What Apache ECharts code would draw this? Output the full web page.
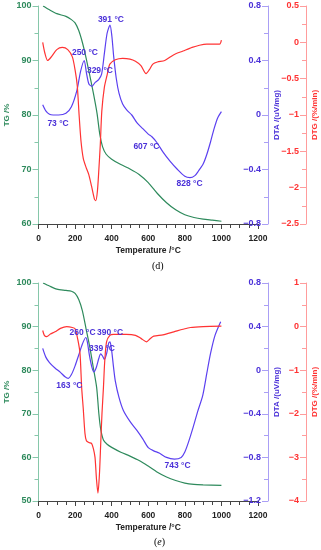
<!DOCTYPE html>
<html><head><meta charset="utf-8">
<script src="https://cdn.jsdelivr.net/npm/echarts@6/dist/echarts.min.js"></script>
<style>html,body{margin:0;padding:0;background:#fff}#c{width:321px;height:550px}</style>
</head><body><div id="c"></div>
<script>
// ---------- DATA (d) ----------
const tgD = [[25,100],[60,99.3],[100,98.6],[150,98.1],[180,97.5],[200,96.9],[220,95.5],[240,93.3],[260,90.5],[280,87.3],[300,84],[320,80.3],[335,76.5],[350,74.2],[370,72.8],[400,71.9],[450,70.9],[500,70.1],[550,69.1],[600,67.6],[650,65.6],[700,63.9],[750,62.6],[800,61.7],[850,61.2],[900,60.9],[950,60.7],[1000,60.5]];
const dtaD = [[23,0.075],[40,0.03],[60,0.005],[80,0.0],[110,0.0],[150,0.012],[180,0.06],[210,0.18],[230,0.32],[250,0.40],[262,0.31],[275,0.23],[292,0.21],[310,0.24],[329,0.26],[345,0.30],[360,0.45],[375,0.6],[391,0.66],[401,0.58],[411,0.43],[425,0.27],[440,0.16],[460,0.08],[482,0.037],[510,0.0],[540,-0.06],[570,-0.1],[600,-0.14],[620,-0.16],[646,-0.2],[680,-0.27],[720,-0.34],[760,-0.40],[800,-0.45],[828,-0.46],[855,-0.445],[875,-0.41],[900,-0.36],[920,-0.29],[940,-0.2],[960,-0.1],[980,-0.02],[1000,0.025]];
const dtgD = [[23,0.0],[35,-0.15],[50,-0.25],[70,-0.2],[100,-0.1],[130,-0.07],[160,-0.1],[185,-0.2],[200,-0.38],[212,-0.6],[222,-1.0],[232,-1.35],[245,-1.6],[260,-1.72],[275,-1.82],[290,-1.98],[305,-2.15],[313,-2.18],[322,-2.05],[330,-1.75],[338,-1.4],[346,-0.95],[360,-0.62],[375,-0.45],[390,-0.3],[420,-0.24],[460,-0.22],[500,-0.23],[530,-0.26],[560,-0.32],[588,-0.43],[605,-0.38],[625,-0.3],[650,-0.27],[690,-0.25],[740,-0.17],[790,-0.12],[840,-0.07],[880,-0.04],[920,-0.025],[990,-0.025],[1000,0.03]];
const annD = [[396,0.697,'391 °C'],[254,0.455,'250 °C'],[336,0.323,'329 °C'],[107,-0.066,'73 °C'],[590,-0.235,'607 °C'],[826,-0.506,'828 °C']];
// ---------- DATA (e) ----------
const tgE = [[25,100],[60,99.3],[100,98.6],[150,98.3],[180,98.1],[200,97.6],[220,96.2],[240,93.6],[260,89.5],[280,85.4],[300,80.5],[318,76],[330,70],[340,66.5],[355,64],[375,63],[400,62.3],[450,61.2],[500,60.3],[550,59.3],[600,58],[650,56.6],[700,55.5],[750,54.7],[800,54.1],[850,53.8],[900,53.7],[1000,53.6]];
const dtaE = [[23,0.2],[40,0.12],[60,0.07],[90,0.02],[120,-0.02],[145,-0.06],[163,-0.075],[180,-0.04],[200,0.04],[220,0.14],[240,0.24],[258,0.3],[267,0.26],[278,0.14],[290,0.04],[302,-0.015],[315,0.02],[330,0.11],[340,0.15],[350,0.13],[360,0.1],[372,0.15],[384,0.25],[391,0.26],[400,0.18],[410,0.03],[420,-0.1],[440,-0.25],[464,-0.37],[500,-0.47],[537,-0.55],[570,-0.63],[600,-0.71],[630,-0.74],[660,-0.76],[700,-0.80],[743,-0.815],[780,-0.80],[800,-0.75],[820,-0.66],[846,-0.52],[870,-0.38],[898,-0.23],[920,-0.03],[940,0.15],[965,0.32],[996,0.445]];
const dtgE = [[23,-0.09],[32,-0.2],[45,-0.23],[65,-0.17],[90,-0.12],[120,-0.04],[154,0.0],[185,-0.02],[200,-0.05],[215,-0.3],[227,-0.62],[236,-1.4],[245,-1.9],[254,-2.45],[262,-2.62],[275,-2.66],[290,-2.68],[300,-2.8],[309,-3.0],[317,-3.5],[325,-3.82],[333,-3.4],[340,-2.7],[347,-2.0],[355,-1.4],[362,-0.8],[372,-0.35],[390,-0.2],[410,-0.18],[480,-0.18],[530,-0.2],[560,-0.27],[591,-0.35],[610,-0.28],[630,-0.22],[680,-0.19],[740,-0.12],[790,-0.06],[830,-0.02],[900,0.0],[1000,0.01]];
const annE = [[241,0.341,'260 °C'],[391,0.341,'390 °C'],[347,0.194,'339 °C'],[169,-0.145,'163 °C'],[760,-0.879,'743 °C']];
// ---------- STYLE ----------
const FF = 'Liberation Sans, Arial, sans-serif';
const GREEN='#2e8a5c', GREEN_AX='#86c7aa', BLUE='#5b40f0', BLUE_TXT='#4a30d8', BLUE_AX='#aa9ff5', RED='#ff3333', RED_AX='#ff9c9c';
const fmt = v => String(+v.toFixed(2)).replace('-', '\u2212');

function yAx(grid, pos, offset, min, max, interval, color, axColor, name, nameGap, inside){
  return {type:'value', gridIndex:grid, position:pos, offset, min, max, interval,
    name, nameLocation:'middle', nameGap, nameRotate:90, nameMoveOverlap:false,
    nameTextStyle:{color, fontWeight:'bold', fontSize:8, fontFamily:FF},
    axisLine:{show:true, onZero:false, lineStyle:{color:axColor, width:1}},
    axisTick:{show:true, inside, length:6, lineStyle:{color:axColor}},
    minorTick:{show:true, splitNumber:2, length:4, lineStyle:{color:axColor}},
    axisLabel:{inside, margin:7, color, fontWeight:'bold', fontSize:9, fontFamily:FF, formatter:fmt},
    splitLine:{show:false}, minorSplitLine:{show:false}};
}
function xAx(grid){
  return {type:'value', gridIndex:grid, min:0, max:1200, interval:200,
    name:'Temperature /°C', nameLocation:'middle', nameGap:22, nameMoveOverlap:false,
    nameTextStyle:{color:'#222', fontWeight:'bold', fontSize:8.5, fontFamily:FF},
    axisLine:{onZero:false, lineStyle:{color:'#444'}},
    axisTick:{length:5, lineStyle:{color:'#444'}},
    minorTick:{show:true, splitNumber:4, length:4, lineStyle:{color:'#444'}},
    axisLabel:{margin:10, color:'#222', fontWeight:'bold', fontSize:8.5, fontFamily:FF, formatter: v => String(v)},
    splitLine:{show:false}};
}
function line(data, xi, yi, color){
  return {type:'line', data, xAxisIndex:xi, yAxisIndex:yi, smooth:0.25, symbol:'none',
    lineStyle:{color, width:1.2}, itemStyle:{color}, silent:true};
}
function ann(list){
  return {symbol:'circle', symbolSize:1, itemStyle:{color:'rgba(0,0,0,0)'}, silent:true,
    label:{show:true, position:'inside', formatter:'{b}', color:BLUE_TXT, fontWeight:'bold', fontSize:8.5, fontFamily:FF},
    data: list.map(a => ({name:a[2], coord:[a[0], a[1]]}))};
}
const chart = echarts.init(document.getElementById('c'), null, {renderer:'canvas'});
const dtaDs = line(dtaD,0,1,BLUE); dtaDs.markPoint = ann(annD);
const dtaEs = line(dtaE,1,4,BLUE); dtaEs.markPoint = ann(annE);
chart.setOption({
  animation:false,
  backgroundColor:'#fff',
  title:[
    {text:'(d)', left:152, top:261, padding:0, textStyle:{fontFamily:'Liberation Serif, serif', fontSize:10, fontWeight:'normal', color:'#000'}},
    {text:'({i|e})', left:154, top:537, padding:0, textStyle:{fontFamily:'Liberation Serif, serif', fontSize:10, fontWeight:'normal', color:'#000', rich:{i:{fontStyle:'italic', fontFamily:'Liberation Serif, serif', fontSize:10}}}}
  ],
  grid:[
    {left:38.5, top:6, width:219.5, height:218, containLabel:false, outerBoundsMode:'none'},
    {left:38.5, top:283, width:219.5, height:218, containLabel:false, outerBoundsMode:'none'}
  ],
  xAxis:[xAx(0), xAx(1)],
  yAxis:[
    yAx(0,'left',0,60,100,10,GREEN,GREEN_AX,'TG /%',28,false),
    yAx(0,'right',10,-0.8,0.8,0.4,BLUE_TXT,BLUE_AX,'DTA /(uV/mg)',5,true),
    yAx(0,'right',48,-2.5,0.5,0.5,RED,RED_AX,'DTG /(%/min)',5,true),
    yAx(1,'left',0,50,100,10,GREEN,GREEN_AX,'TG /%',28,false),
    yAx(1,'right',10,-1.2,0.8,0.4,BLUE_TXT,BLUE_AX,'DTA /(uV/mg)',5,true),
    yAx(1,'right',48,-4,1,1,RED,RED_AX,'DTG /(%/min)',5,true)
  ],
  series:[
    line(tgD,0,0,GREEN), dtaDs, line(dtgD,0,2,RED),
    line(tgE,1,3,GREEN), dtaEs, line(dtgE,1,5,RED)
  ]
});
</script></body></html>
